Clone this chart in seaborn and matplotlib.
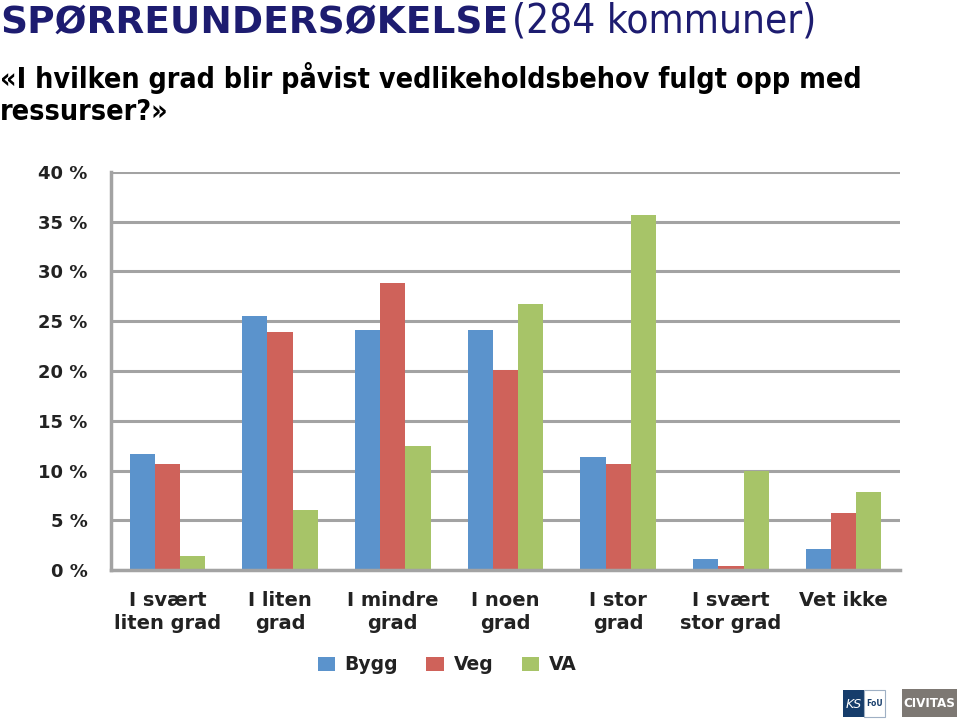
import matplotlib
matplotlib.use("Agg")
import matplotlib.pyplot as plt
from matplotlib.patches import Patch, Rectangle
import seaborn as sns
import pandas as pd

# ---- data ----
categories = ["I svært\nliten grad", "I liten\ngrad", "I mindre\ngrad", "I noen\ngrad",
              "I stor\ngrad", "I svært\nstor grad", "Vet ikke"]
series = ["Bygg", "Veg", "VA"]
bygg = [11.7, 25.5, 24.1, 24.1, 11.4, 1.1, 2.1]
veg = [10.7, 23.9, 28.8, 20.1, 10.7, 0.4, 5.7]
va = [1.4, 6.0, 12.5, 26.7, 35.7, 10.0, 7.8]
yticks = [0, 5, 10, 15, 20, 25, 30, 35, 40]
ytick_labels = [f"{v} %" for v in yticks]
colors = ["#5b93cc", "#cf625a", "#a7c468"]

rows = []
for s, vals in zip(series, [bygg, veg, va]):
    for c, v in zip(categories, vals):
        rows.append({"kategori": c, "serie": s, "andel": v})
df = pd.DataFrame(rows)

sns.set_theme(style="white")
plt.rcParams["font.family"] = ["DejaVu Sans"]

W, H = 960, 719
fig = plt.figure(figsize=(W / 100, H / 100), dpi=100)
fig.patch.set_facecolor("white")
ax = fig.add_axes([111 / W, 1 - 570 / H, (900 - 111) / W, (570 - 172) / H])

sns.barplot(data=df, x="kategori", y="andel", hue="serie", order=categories,
            hue_order=series, palette=colors, width=0.67, gap=0, saturation=1,
            legend=False, ax=ax, errorbar=None, linewidth=0, edgecolor="none")

grid_c = "#a3a3a3"
ax.set_ylim(0, 40)
ax.set_xlim(-0.5, len(categories) - 0.5)
ax.set_yticks(yticks)
ax.set_yticklabels(ytick_labels)
ax.yaxis.grid(True, color=grid_c, linewidth=2.2)
ax.set_axisbelow(True)
ax.set_xlabel("")
ax.set_ylabel("")
for side in ["top", "right"]:
    ax.spines[side].set_visible(False)
for side in ["left", "bottom"]:
    ax.spines[side].set_color(grid_c)
    ax.spines[side].set_linewidth(2.5)

ax.tick_params(axis="y", length=7, width=2, color=grid_c, pad=10,
               labelsize=13, labelcolor="#222222")
for t in ax.get_yticklabels():
    t.set_fontweight("bold")
ax.set_xticks(range(len(categories)))
ax.set_xticklabels(categories, linespacing=1.25)
ax.set_xticks([i - 0.5 for i in range(len(categories) + 1)], minor=True)
ax.tick_params(axis="x", which="major", length=0, pad=15, labelsize=14,
               labelcolor="#222222")
ax.tick_params(axis="x", which="minor", length=5, width=2, color=grid_c,
               direction="out")
for t in ax.get_xticklabels():
    t.set_fontweight("bold")

# legend
handles = [Patch(facecolor=c, edgecolor="none", label=s) for c, s in zip(colors, series)]
fig.legend(handles=handles, loc="center", bbox_to_anchor=(447 / W, 1 - 665 / H),
           ncol=3, frameon=False, prop={"weight": "bold", "size": 13.5},
           handlelength=0.95, handleheight=0.85, handletextpad=0.5, columnspacing=1.5,
           labelcolor="#222222")

# titles
navy = "#1d1c70"
cond = ["Liberation Sans Narrow", "DejaVu Sans"]
fig.text(0.0, 1 - 33 / H, "SPØRREUNDERSØKELSE", fontsize=27, fontweight="bold",
         color=navy, ha="left", va="baseline")
fig.text(512 / W, 1 - 33 / H, "(284 kommuner)", fontsize=29,
         family=cond, fontstretch="condensed",
         color=navy, ha="left", va="baseline")
fig.text(0.0, 1 - 88 / H, "«I hvilken grad blir påvist vedlikeholdsbehov fulgt opp med",
         fontsize=20.5, fontweight="bold", family=cond, fontstretch="condensed",
         color="black", ha="left", va="baseline")
fig.text(0.0, 1 - 120 / H, "ressurser?»",
         fontsize=20.5, fontweight="bold", family=cond, fontstretch="condensed",
         color="black", ha="left", va="baseline")

# logos
def frect(x0, y0, x1, y1, **kw):
    fig.patches.append(Rectangle((x0 / W, 1 - y1 / H), (x1 - x0) / W, (y1 - y0) / H,
                                 transform=fig.transFigure, figure=fig, **kw))

frect(843, 690, 864, 717, facecolor="#163d6b", edgecolor="none")
frect(864, 690, 885, 717, facecolor="white", edgecolor="#9fb0c4", linewidth=0.8)
fig.text(853.5 / W, 1 - 704 / H, "KS", color="white", fontsize=9, style="italic",
         ha="center", va="center")
fig.text(874.5 / W, 1 - 704 / H, "FoU", color="#163d6b", fontsize=5.5,
         fontweight="bold", ha="center", va="center")
frect(902, 689, 957, 717, facecolor="#7d7873", edgecolor="none")
fig.text(929.5 / W, 1 - 703.5 / H, "CIVITAS", color="white", fontsize=9.5,
         fontweight="bold", family=cond, fontstretch="condensed",
         ha="center", va="center")

fig.savefig("out.png", dpi=100, facecolor="white")
